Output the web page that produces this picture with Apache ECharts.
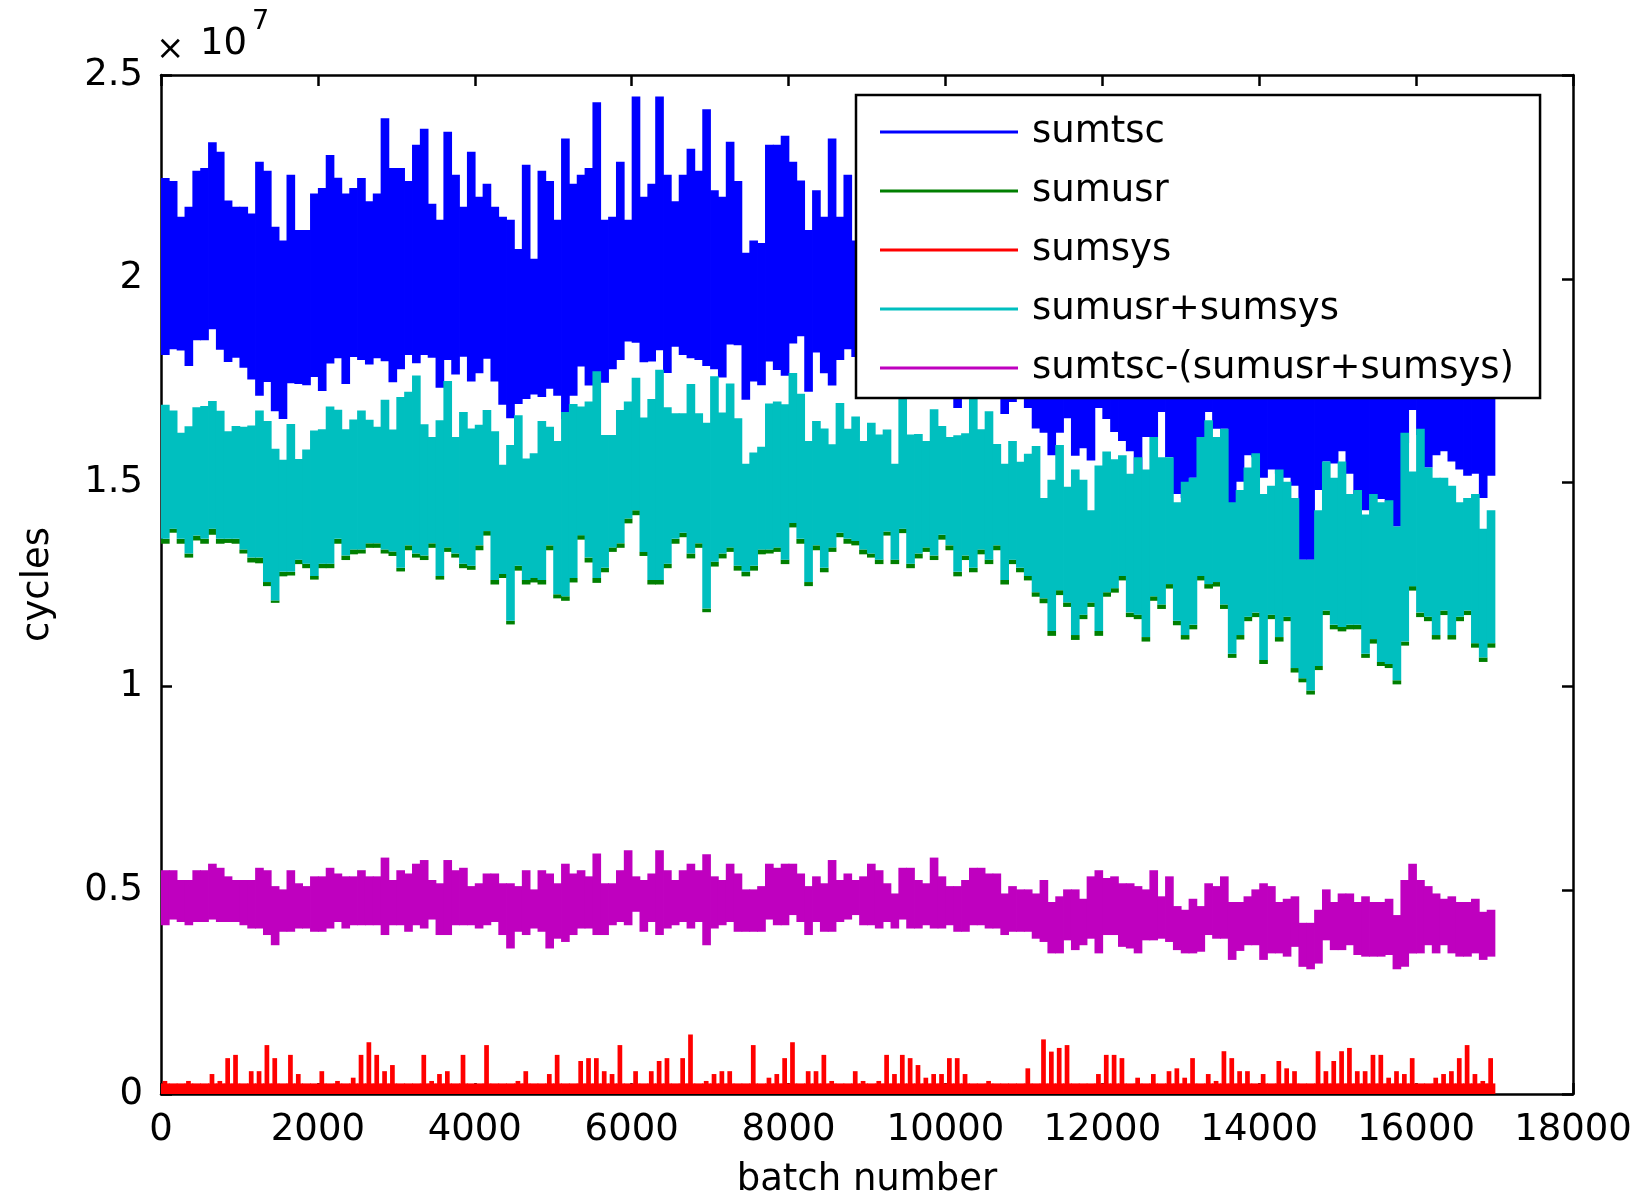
<!DOCTYPE html>
<html>
<head>
<meta charset="utf-8">
<title>cycles per batch</title>
<script src="https://cdn.jsdelivr.net/npm/echarts@6/dist/echarts.min.js"></script>
<style>
  html, body { margin: 0; padding: 0; background: #fff; }
  #chart { width: 1651px; height: 1198px; }
</style>
</head>
<body>
<div id="chart"></div>
<script>
// every bin is 100 batches wide; values are in units of 1e7 cycles,
// read off the plot as the low / high envelope of each bin
const BIN = 100;
const seriesNames = ['sumtsc', 'sumusr', 'sumsys', 'sumusr+sumsys', 'sumtsc-(sumusr+sumsys)'];
const seriesColors = ['#0000ff', '#007f00', '#ff0000', '#00bfbf', '#bf00bf'];
const yTicks = [0, 0.5, 1, 1.5, 2, 2.5];

const sumtscHi = [
  2.247, 2.24, 2.152, 2.177, 2.265, 2.272, 2.335, 2.312, 2.192, 2.177, 2.177, 2.16, 2.287, 2.265, 2.128, 2.094, 2.255, 2.12, 2.12, 2.209,
  2.223, 2.304, 2.248, 2.209, 2.223, 2.247, 2.19, 2.209, 2.394, 2.272,
  2.272, 2.24, 2.329, 2.368, 2.184, 2.145, 2.361, 2.255, 2.177, 2.312, 2.201, 2.233, 2.177, 2.152, 2.145, 2.073, 2.28, 2.049, 2.265, 2.24,
  2.145, 2.344, 2.233, 2.255, 2.272, 2.433, 2.145, 2.152, 2.287, 2.145, 2.447, 2.201,
  2.233, 2.447, 2.255, 2.19, 2.255, 2.319, 2.265, 2.416, 2.217, 2.201, 2.336, 2.24, 2.064, 2.094, 2.088, 2.329, 2.329, 2.351, 2.287, 2.241,
  2.12, 2.217, 2.152, 2.344, 2.152, 2.255, 2.094,
  2.21, 2.18, 2.25, 2.14, 2.2, 2.3, 2.16, 2.22, 2.19, 2.27, 2.13,
  2.24, 2.2, 2.17, 2.29, 2.15, 2.21, 2.23, 2.12, 2.26, 2.18,
  2.2, 2.16, 2.05, 2.1, 2.02, 2.08, 2.0, 2.06, 2.12, 1.98,
  2.04, 2.1, 2.07, 1.99, 2.03, 2.09, 2.01, 2.05, 2.11, 1.97,
  2.02, 2.08, 2.0, 2.06, 2.12, 2.03, 1.96, 2.04, 2.09, 2.01,
  2.07, 1.98, 2.03, 2.1, 2.05, 1.92, 1.95, 2.02, 2.06, 1.99,
  2.04, 2.08, 2.0, 1.97, 2.05, 2.1, 2.02, 1.98, 2.06, 2.03,
  1.99, 2.07, 2.01, 1.96, 2.04, 2.08, 2.0, 2.05, 1.98, 2.02
];
const sumtscLo = [
  1.813, 1.827, 1.824, 1.786, 1.849, 1.849, 1.876, 1.826, 1.796, 1.806, 1.782, 1.753, 1.713, 1.747, 1.675, 1.656, 1.744, 1.742, 1.739, 1.759,
  1.725, 1.792, 1.805, 1.742, 1.808, 1.801, 1.79, 1.805, 1.798, 1.746,
  1.778, 1.813, 1.793, 1.813, 1.806, 1.733, 1.801, 1.765, 1.809, 1.748, 1.768, 1.804, 1.748, 1.691, 1.658, 1.693, 1.705, 1.716, 1.71, 1.73,
  1.713, 1.656, 1.713, 1.785, 1.738, 1.75, 1.745, 1.778, 1.801, 1.846, 1.843, 1.795,
  1.797, 1.825, 1.769, 1.833, 1.813, 1.805, 1.801, 1.786, 1.778, 1.758, 1.839, 1.837, 1.703, 1.748, 1.739, 1.797, 1.776, 1.762, 1.841, 1.859,
  1.723, 1.819, 1.768, 1.738, 1.801, 1.827, 1.808,
  1.76, 1.78, 1.75, 1.77, 1.79, 1.76, 1.78, 1.75, 1.77, 1.8, 1.76, 1.78,
  1.683, 1.76, 1.78, 1.75, 1.77, 1.74, 1.668, 1.698, 1.75, 1.683, 1.633, 1.622, 1.567, 1.622, 1.658, 1.566, 1.584, 1.554, 1.683, 1.656,
  1.624, 1.602, 1.577,
  1.512, 1.612, 1.612, 1.673, 1.562, 1.472, 1.462, 1.512, 1.612, 1.673, 1.632, 1.632, 1.443, 1.502, 1.567, 1.562, 1.512, 1.532, 1.522, 1.512,
  1.492, 1.311, 1.311, 1.482, 1.552, 1.547, 1.577, 1.522, 1.462, 1.432,
  1.47, 1.46, 1.452, 1.392, 1.597, 1.678, 1.617, 1.537, 1.567, 1.577, 1.552, 1.532, 1.517, 1.522, 1.462, 1.517
];
const usrSysHi = [
  1.691, 1.677, 1.622, 1.638, 1.685, 1.688, 1.7, 1.676, 1.626, 1.639, 1.637, 1.64, 1.677, 1.651, 1.583, 1.556, 1.644, 1.558, 1.581, 1.628,
  1.631, 1.687, 1.679, 1.631, 1.655, 1.677, 1.654, 1.637, 1.703, 1.63,
  1.71, 1.723, 1.763, 1.643, 1.612, 1.653, 1.749, 1.612, 1.673, 1.633, 1.642, 1.678, 1.626, 1.544, 1.592, 1.665, 1.559, 1.572, 1.651, 1.637,
  1.602, 1.673, 1.693, 1.687, 1.699, 1.773, 1.617, 1.617, 1.678, 1.699, 1.757, 1.66,
  1.705, 1.777, 1.685, 1.67, 1.67, 1.742, 1.67, 1.647, 1.761, 1.672, 1.743, 1.658, 1.546, 1.574, 1.588, 1.694, 1.699, 1.692, 1.769, 1.718,
  1.602, 1.651, 1.633, 1.594, 1.695, 1.632, 1.662, 1.602, 1.647, 1.618, 1.63,
  1.546, 1.708, 1.618, 1.619, 1.602, 1.68, 1.639, 1.612, 1.616, 1.621, 1.708, 1.631, 1.675, 1.595, 1.546, 1.602, 1.551, 1.571, 1.59, 1.462,
  1.507, 1.592, 1.49, 1.532, 1.507, 1.432, 1.542, 1.576, 1.557, 1.567, 1.522,
  1.562, 1.532, 1.612, 1.562, 1.562, 1.452, 1.502, 1.512, 1.612, 1.653, 1.612, 1.632, 1.452, 1.482, 1.537, 1.572, 1.472, 1.492, 1.532, 1.502,
  1.462, 1.311, 1.311, 1.432, 1.552, 1.512, 1.552, 1.472, 1.482, 1.422,
  1.472, 1.452, 1.457, 1.392, 1.622, 1.527, 1.632, 1.537, 1.512, 1.512, 1.492, 1.452, 1.462, 1.472, 1.387, 1.432
];
const usrSysLo = [
  1.362, 1.387, 1.362, 1.326, 1.37, 1.362, 1.387, 1.362, 1.362, 1.362, 1.336, 1.316, 1.316, 1.256, 1.211, 1.281, 1.281, 1.311, 1.301, 1.271,
  1.301, 1.301, 1.362, 1.321, 1.336, 1.336, 1.351, 1.351, 1.336, 1.331,
  1.291, 1.346, 1.326, 1.321, 1.351, 1.271, 1.341, 1.326, 1.301, 1.296, 1.346, 1.381, 1.261, 1.276, 1.161, 1.296, 1.261, 1.266, 1.261, 1.346,
  1.226, 1.221, 1.266, 1.371, 1.316, 1.266, 1.291, 1.341, 1.351, 1.412, 1.432, 1.33,
  1.261, 1.261, 1.301, 1.362, 1.377, 1.326, 1.351, 1.191, 1.306, 1.326, 1.341, 1.296, 1.281, 1.296, 1.336, 1.336, 1.341, 1.311, 1.401, 1.362,
  1.256, 1.346, 1.291, 1.341, 1.377, 1.362, 1.357, 1.336, 1.326, 1.311, 1.38,
  1.311, 1.387, 1.301, 1.326, 1.341, 1.321, 1.372, 1.346, 1.281, 1.321, 1.291, 1.336, 1.311, 1.346, 1.261, 1.311, 1.291, 1.271, 1.231, 1.216,
  1.136, 1.236, 1.206, 1.126, 1.176, 1.206, 1.136, 1.231, 1.241, 1.271, 1.181,
  1.176, 1.121, 1.221, 1.201, 1.251, 1.161, 1.126, 1.151, 1.271, 1.251, 1.256, 1.201, 1.08, 1.126, 1.171, 1.181, 1.065, 1.176, 1.121, 1.171,
  1.045, 1.02, 0.99, 1.05, 1.186, 1.151, 1.146, 1.151, 1.151, 1.08,
  1.116, 1.06, 1.055, 1.015, 1.11, 1.246, 1.181, 1.171, 1.126, 1.186, 1.126, 1.171, 1.186, 1.106, 1.071, 1.106
];
// sumusr only shows as a thin fringe under the cyan band
const sumusrLo = [
  1.35, 1.377, 1.35, 1.316, 1.358, 1.35, 1.372, 1.35, 1.352, 1.35, 1.326, 1.304, 1.302, 1.246, 1.205, 1.27, 1.272, 1.3, 1.29, 1.262,
  1.29, 1.29, 1.35, 1.31, 1.324, 1.326, 1.34, 1.34, 1.326, 1.32,
  1.282, 1.334, 1.316, 1.31, 1.34, 1.262, 1.33, 1.316, 1.29, 1.286, 1.334, 1.37, 1.25, 1.266, 1.152, 1.284, 1.25, 1.255, 1.25, 1.334,
  1.216, 1.21, 1.255, 1.36, 1.304, 1.254, 1.28, 1.33, 1.34, 1.4, 1.42, 1.32,
  1.25, 1.25, 1.29, 1.35, 1.366, 1.314, 1.34, 1.182, 1.294, 1.314, 1.33, 1.284, 1.27, 1.284, 1.324, 1.326, 1.33, 1.3, 1.39, 1.35,
  1.246, 1.334, 1.28, 1.33, 1.366, 1.35, 1.346, 1.324, 1.316, 1.3, 1.37,
  1.3, 1.376, 1.29, 1.314, 1.33, 1.31, 1.36, 1.334, 1.27, 1.31, 1.28, 1.324, 1.3, 1.334, 1.25, 1.3, 1.28, 1.26, 1.22, 1.204,
  1.124, 1.224, 1.195, 1.114, 1.165, 1.195, 1.124, 1.22, 1.23, 1.26, 1.17,
  1.165, 1.11, 1.21, 1.19, 1.24, 1.15, 1.115, 1.14, 1.26, 1.24, 1.245, 1.19, 1.07, 1.115, 1.16, 1.17, 1.055, 1.165, 1.11, 1.16,
  1.034, 1.01, 0.98, 1.04, 1.175, 1.14, 1.135, 1.14, 1.14, 1.07,
  1.105, 1.05, 1.045, 1.005, 1.1, 1.235, 1.17, 1.16, 1.115, 1.175, 1.115, 1.16, 1.175, 1.095, 1.06, 1.095
];
const sumsysFloor = 0.026;
const sumsysHi = [
  0.032, 0.025, 0.025, 0.032, 0.025, 0.025, 0.049, 0.032, 0.088, 0.096, 0.025, 0.056, 0.056, 0.12, 0.088, 0.025, 0.096, 0.049, 0.025, 0.025,
  0.056, 0.025, 0.032, 0.025, 0.04, 0.096, 0.127, 0.096, 0.056, 0.071, 0.025, 0.025, 0.025, 0.096, 0.032, 0.049, 0.056, 0.025, 0.096, 0.025,
  0.025, 0.12, 0.025, 0.025, 0.025, 0.032, 0.056, 0.025, 0.025, 0.049, 0.096, 0.025, 0.025, 0.081, 0.088, 0.088, 0.056, 0.049, 0.12, 0.025,
  0.056, 0.025, 0.056, 0.081, 0.088, 0.025, 0.088, 0.146, 0.025, 0.032, 0.049, 0.056, 0.056, 0.025, 0.025, 0.12, 0.025, 0.04, 0.049, 0.088,
  0.127, 0.025, 0.056, 0.056, 0.096, 0.032, 0.025, 0.025, 0.056, 0.032, 0.025, 0.032, 0.096, 0.049, 0.096, 0.088, 0.071, 0.04, 0.049, 0.049,
  0.088, 0.088, 0.049, 0.025, 0.025, 0.032, 0.025, 0.025, 0.025, 0.025, 0.063, 0.025, 0.134, 0.104, 0.113, 0.12, 0.025, 0.025, 0.025, 0.049,
  0.096, 0.096, 0.088, 0.025, 0.04, 0.025, 0.049, 0.025, 0.056, 0.063, 0.04, 0.088, 0.025, 0.049, 0.032, 0.105, 0.088, 0.056, 0.056, 0.025,
  0.049, 0.025, 0.081, 0.063, 0.056, 0.025, 0.025, 0.105, 0.056, 0.081, 0.105, 0.113, 0.056, 0.056, 0.096, 0.096, 0.04, 0.056, 0.049, 0.088,
  0.025, 0.025, 0.04, 0.049, 0.056, 0.088, 0.12, 0.049, 0.032, 0.088
];
const diffHi = [
  0.549, 0.549, 0.525, 0.525, 0.549, 0.549, 0.565, 0.555, 0.534, 0.525, 0.525, 0.525, 0.555, 0.549, 0.51, 0.502, 0.549, 0.517, 0.51, 0.534,
  0.534, 0.555, 0.541, 0.534, 0.534, 0.549, 0.534, 0.534, 0.58, 0.525, 0.549, 0.541, 0.565, 0.574, 0.525, 0.517, 0.574, 0.549, 0.555, 0.51,
  0.517, 0.541, 0.541, 0.517, 0.517, 0.51, 0.549, 0.502, 0.549, 0.541, 0.517, 0.565, 0.541, 0.549, 0.534, 0.59, 0.517,
  0.517, 0.549, 0.598, 0.534, 0.525, 0.541, 0.598, 0.549, 0.525, 0.549, 0.565, 0.549, 0.588, 0.534, 0.525, 0.565, 0.541, 0.502, 0.502, 0.51,
  0.565, 0.555, 0.565, 0.565, 0.541, 0.51, 0.534, 0.517, 0.574, 0.525, 0.541, 0.525, 0.534, 0.565, 0.549, 0.517, 0.492, 0.555, 0.555, 0.525,
  0.517, 0.58, 0.534, 0.51, 0.51, 0.525, 0.555, 0.555, 0.541, 0.541, 0.492, 0.51, 0.502, 0.502, 0.492, 0.525, 0.471, 0.485,
  0.502, 0.502, 0.479, 0.534, 0.549, 0.53, 0.534, 0.517, 0.517, 0.51, 0.502, 0.549, 0.485, 0.534, 0.461, 0.452, 0.479, 0.461, 0.517, 0.51,
  0.534, 0.471, 0.471, 0.485, 0.502, 0.517, 0.51, 0.471, 0.479, 0.485, 0.42, 0.42, 0.452, 0.502, 0.471, 0.492, 0.492, 0.471, 0.485, 0.471,
  0.471, 0.479, 0.439, 0.525, 0.565, 0.525, 0.51, 0.492, 0.479, 0.485, 0.471, 0.471, 0.479, 0.447, 0.452
];
const diffLo = [
  0.414, 0.428, 0.422, 0.414, 0.422, 0.422, 0.428, 0.422, 0.422, 0.422, 0.414, 0.406, 0.406, 0.39, 0.365, 0.398, 0.398, 0.406, 0.406, 0.398,
  0.398, 0.406, 0.422, 0.406, 0.414, 0.414, 0.414, 0.414, 0.39, 0.414, 0.414, 0.398, 0.414, 0.406, 0.428, 0.39, 0.39, 0.414, 0.414, 0.414,
  0.406, 0.414, 0.422, 0.39, 0.357, 0.398, 0.39, 0.406, 0.398, 0.357, 0.381, 0.373, 0.39, 0.406, 0.406, 0.39, 0.39,
  0.414, 0.422, 0.414, 0.447, 0.398, 0.422, 0.39, 0.406, 0.414, 0.422, 0.406, 0.422, 0.365, 0.406, 0.414, 0.422, 0.398, 0.398, 0.398, 0.398,
  0.428, 0.414, 0.414, 0.439, 0.422, 0.39, 0.422, 0.398, 0.398, 0.422, 0.428, 0.439, 0.414, 0.414, 0.406, 0.422, 0.406, 0.428, 0.406, 0.406,
  0.414, 0.406, 0.406, 0.414, 0.398, 0.398, 0.414, 0.414, 0.406, 0.406, 0.39, 0.398, 0.398, 0.398, 0.381, 0.373, 0.345, 0.345,
  0.377, 0.353, 0.365, 0.381, 0.345, 0.39, 0.39, 0.361, 0.357, 0.345, 0.377, 0.377, 0.381, 0.373, 0.353, 0.345, 0.345, 0.349, 0.39, 0.381,
  0.381, 0.329, 0.351, 0.365, 0.365, 0.329, 0.345, 0.345, 0.337, 0.361, 0.312, 0.306, 0.32, 0.377, 0.353, 0.353, 0.365, 0.341, 0.337, 0.337,
  0.337, 0.341, 0.306, 0.312, 0.345, 0.345, 0.365, 0.345, 0.365, 0.345, 0.337, 0.337, 0.345, 0.329, 0.337
];

const FONT = 'DejaVu Sans';

function band(lo, hi) {
  return lo.map((v, i) => [i * BIN, v, hi[i]]);
}

function drawBand(params, api) {
  const x = api.value(0);
  const p0 = api.coord([x, api.value(1)]);
  const p1 = api.coord([x + BIN, api.value(2)]);
  return {
    type: 'rect',
    shape: { x: p0[0], y: p1[1], width: p1[0] - p0[0] + 0.8, height: p0[1] - p1[1] },
    style: { fill: api.visual('color') }
  };
}

function drawSys(params, api) {
  const x = api.value(0);
  const fill = api.visual('color');
  const b0 = api.coord([x, 0]);
  const b1 = api.coord([x + BIN, sumsysFloor]);
  const kids = [{
    type: 'rect',
    shape: { x: b0[0], y: b1[1], width: b1[0] - b0[0] + 0.8, height: b0[1] - b1[1] },
    style: { fill: fill }
  }];
  const top = api.value(1);
  if (top > sumsysFloor) {
    const s0 = api.coord([x + BIN * 0.2, 0]);
    const s1 = api.coord([x + BIN * 0.8, top]);
    kids.push({
      type: 'rect',
      shape: { x: s0[0], y: s1[1], width: s1[0] - s0[0], height: s0[1] - s1[1] },
      style: { fill: fill }
    });
  }
  return { type: 'group', children: kids };
}

const chart = echarts.init(document.getElementById('chart'), null, { renderer: 'canvas' });

const axisCommon = {
  axisLine: { show: true, onZero: false, lineStyle: { color: '#000', width: 2.5 } },
  axisTick: { show: true, inside: true, length: 11, lineStyle: { color: '#000', width: 2.5 } },
  splitLine: { show: false }
};
const plain = v => String(v);

const option = {
  animation: false,
  backgroundColor: '#fff',
  color: seriesColors,
  grid: { left: 161, right: 78, top: 75, bottom: 104, containLabel: false, outerBoundsMode: 'none' },
  xAxis: [
    Object.assign({
      type: 'value', min: 0, max: 18000, interval: 2000, position: 'bottom',
      name: 'batch number', nameLocation: 'middle', nameGap: 68,
      nameTextStyle: { fontFamily: FONT, fontSize: 37, color: '#000' },
      axisLabel: { fontFamily: FONT, fontSize: 37, color: '#000', margin: 18, formatter: plain }
    }, axisCommon),
    Object.assign({
      type: 'value', min: 0, max: 18000, interval: 2000, position: 'top',
      axisLabel: { show: false }
    }, axisCommon)
  ],
  yAxis: [
    Object.assign({
      type: 'value', min: yTicks[0], max: yTicks[yTicks.length - 1], interval: 0.5, position: 'left',
      name: 'cycles', nameLocation: 'middle', nameGap: 104,
      nameTextStyle: { fontFamily: FONT, fontSize: 37, color: '#000' },
      axisLabel: { fontFamily: FONT, fontSize: 37, color: '#000', margin: 18, formatter: plain }
    }, axisCommon),
    Object.assign({
      type: 'value', min: yTicks[0], max: yTicks[yTicks.length - 1], interval: 0.5, position: 'right',
      axisLabel: { show: false }
    }, axisCommon)
  ],
  legend: {
    orient: 'vertical',
    left: 856,
    top: 95,
    padding: [17, 26, 10, 24],
    itemWidth: 138,
    itemHeight: 3,
    itemGap: 19,
    backgroundColor: '#fff',
    borderColor: '#000',
    borderWidth: 2.5,
    borderRadius: 0,
    selectedMode: false,
    z: 10,
    textStyle: { fontFamily: FONT, fontSize: 37, color: '#000', lineHeight: 40, padding: [0, 0, 0, 9] },
    data: seriesNames.map(n => ({ name: n, icon: 'rect' }))
  },
  graphic: [
    { type: 'text', left: 156, top: 33, style: { text: '\u00d7', font: '34px "DejaVu Sans"', fill: '#000' } },
    { type: 'text', left: 200, top: 26, style: { text: '10', font: '37px "DejaVu Sans"', fill: '#000' } },
    { type: 'text', left: 252, top: 8, style: { text: '7', font: '27px "DejaVu Sans"', fill: '#000' } }
  ],
  series: [
    {
      name: seriesNames[0], type: 'custom', renderItem: drawBand, clip: true,
      itemStyle: { color: seriesColors[0] }, encode: { x: 0, y: [1, 2] },
      data: band(sumtscLo, sumtscHi)
    },
    {
      name: seriesNames[1], type: 'custom', renderItem: drawBand, clip: true,
      itemStyle: { color: seriesColors[1] }, encode: { x: 0, y: [1, 2] },
      data: band(sumusrLo, usrSysLo)
    },
    {
      name: seriesNames[2], type: 'custom', renderItem: drawSys, clip: true,
      itemStyle: { color: seriesColors[2] }, encode: { x: 0, y: 1 },
      data: sumsysHi.map((v, i) => [i * BIN, v])
    },
    {
      name: seriesNames[3], type: 'custom', renderItem: drawBand, clip: true,
      itemStyle: { color: seriesColors[3] }, encode: { x: 0, y: [1, 2] },
      data: band(usrSysLo, usrSysHi)
    },
    {
      name: seriesNames[4], type: 'custom', renderItem: drawBand, clip: true,
      itemStyle: { color: seriesColors[4] }, encode: { x: 0, y: [1, 2] },
      data: band(diffLo, diffHi)
    }
  ]
};

chart.setOption(option);
</script>
</body>
</html>
